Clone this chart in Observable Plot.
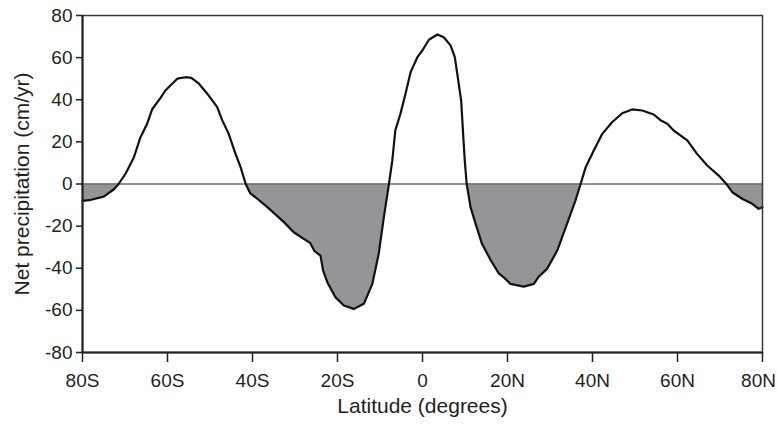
<!DOCTYPE html>
<html>
<head>
<meta charset="utf-8">
<script src="https://cdn.jsdelivr.net/npm/d3@7"></script>
<script src="https://cdn.jsdelivr.net/npm/@observablehq/plot@0.6"></script>
<style>
  html, body { margin: 0; padding: 0; background: #fff; }
  #chart { width: 777px; height: 424px; }
</style>
</head>
<body>
<div id="chart"></div>
<script>
// Latitude (negative = south), degrees
const latitude = [
  -80, -78, -75, -72.6, -71.5, -69.9, -67.9, -66.4, -64.8, -63.6, -61.6, -60.5,
  -58.9, -57.7, -55.8, -54.4, -52.6, -50.3, -48.3, -47.1, -45.6, -44, -42.8, -41.6,
  -40.5, -39.3, -36.5, -32.6, -30.3, -26.4, -25.4, -24, -23.4, -22.4, -20.5, -18.5,
  -16.2, -13.8, -11.8, -10.3, -9.1, -7.9, -7.1, -6.4, -5.2, -4, -2.8, -1.2,
  0, 1.5, 3.5, 5, 6.6, 7.6, 8.3, 9.1, 9.6, 10, 10.4, 11.3,
  12.5, 14, 16, 18, 19.1, 20.7, 23.8, 26.2, 27.4, 29.3, 31.7, 34,
  36, 37.2, 38.4, 40.3, 42.3, 44.6, 47, 49.3, 51.7, 54.4, 56, 57.6,
  59.1, 62.3, 64.6, 67, 69.7, 71.5, 72.9, 75.2, 77.6, 79.1, 80
];
// Net precipitation, cm/yr
const netPrecip = [
  -8, -7.5, -6, -2.5, 0, 4.8, 12.7, 22, 28.6, 35.5, 41, 44.4,
  47.6, 50, 50.7, 50.4, 47.6, 42, 36.5, 30.2, 23.8, 14.3, 8, 0,
  -4.5, -6.3, -11, -18.1, -22.9, -28.1, -31.9, -34, -41, -46.6, -53.7, -57.7,
  -59.3, -56.9, -47.4, -33.1, -15.8, 0, 11.2, 25.4, 33.3, 42.8, 53.1, 60.2,
  63.5, 68.5, 71, 69.7, 65.8, 60.2, 50.7, 39.6, 22.2, 9.6, 0, -11,
  -18.9, -28.4, -36, -42.6, -44.3, -47.4, -48.7, -47.4, -43.9, -40.3, -31.6, -18.9,
  -7.8, 0, 8, 15.9, 23.8, 29.3, 33.6, 35.4, 34.9, 33, 30.3, 28.6,
  25.4, 20.7, 14.3, 8.8, 4, 0, -3.9, -7, -9.4, -11.8, -11
];
const xTicks = [-80, -60, -40, -20, 0, 20, 40, 60, 80];
const xTickEdge = [80];
const yTicks = [-80, -60, -40, -20, 0, 20, 40, 60, 80];
const xTitle = "Latitude (degrees)";
const yTitle = "Net precipitation (cm/yr)";

const data = latitude.map((lat, i) => ({lat, v: netPrecip[i]}));
const latFmt = d => d === 0 ? "0" : Math.abs(d) + (d < 0 ? "S" : "N");
const ink = "#231f20";

const chart = Plot.plot({
  width: 777,
  height: 424,
  marginLeft: 82,
  marginRight: 15,
  marginTop: 15,
  marginBottom: 72,
  style: {fontFamily: "'Liberation Sans', Arial, sans-serif", fontSize: "19px", color: ink, background: "#fff"},
  x: {domain: [-80, 80]},
  y: {domain: [-80, 80]},
  marks: [
    Plot.areaY(data, {x: "lat", y: d => Math.min(0, d.v), fill: "#939598"}),
    Plot.ruleY([0], {stroke: "#6d6e70", strokeWidth: 1.5}),
    Plot.line(data, {x: "lat", y: "v", stroke: "#111", strokeWidth: 2.2, strokeLinejoin: "round"}),
    Plot.frame({stroke: "#3a3a3a", strokeWidth: 1.5}),
    Plot.ruleX([-80], {stroke: ink, strokeWidth: 2}),
    Plot.ruleY([-80], {stroke: ink, strokeWidth: 2}),
    Plot.axisY({ticks: yTicks, tickFormat: d => String(d), tickSize: 6, tickPadding: 4, label: null, stroke: ink, strokeWidth: 1.5}),
    Plot.axisX({ticks: xTicks, tickFormat: d => d === 80 ? "" : latFmt(d), tickSize: 10, tickPadding: 11, label: null, stroke: ink, strokeWidth: 1.5}),
    Plot.axisX({ticks: xTickEdge, tickFormat: latFmt, tickSize: 0, tickPadding: 21, label: null, dx: -4}),
    Plot.text([xTitle], {frameAnchor: "bottom", dy: 60, fontSize: 21, fill: ink}),
    Plot.text([yTitle], {frameAnchor: "left", dx: -60, rotate: -90, textAnchor: "middle", fontSize: 21, fill: ink})
  ]
});
document.getElementById("chart").appendChild(chart);
</script>
</body>
</html>
